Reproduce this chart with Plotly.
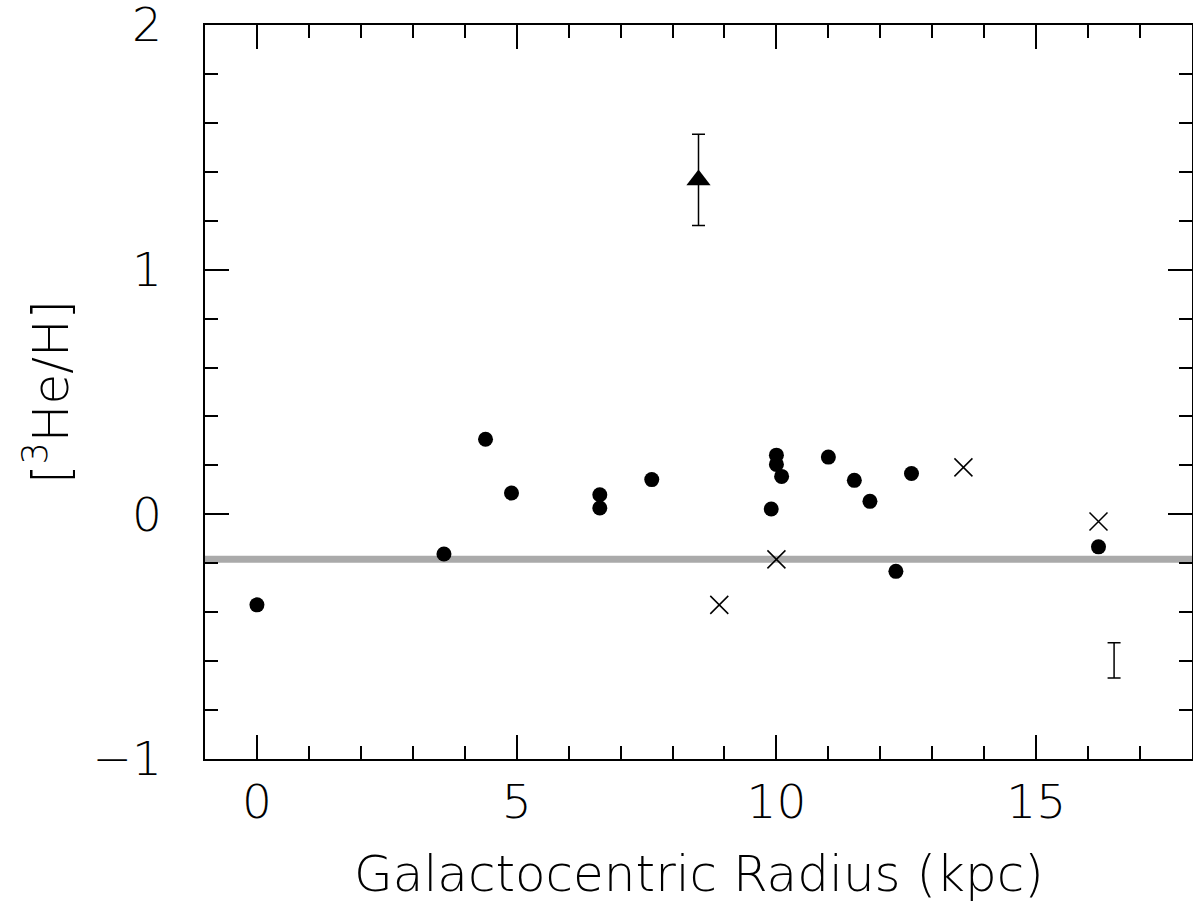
import plotly.graph_objects as go

# Filled circles
circ_x = [0.0, 3.6, 4.4, 4.9, 6.6, 6.6, 7.6, 9.9, 10.0, 10.0, 10.1, 11.0, 11.5, 11.8, 12.3, 12.6, 16.2]
circ_y = [-0.37, -0.162, 0.307, 0.087, 0.080, 0.026, 0.142, 0.022, 0.242, 0.204, 0.155, 0.234, 0.139, 0.053, -0.233, 0.167, -0.133]

# Crosses
cross_x = [8.9, 10.0, 13.6, 16.2]
cross_y = [-0.370, -0.184, 0.192, -0.029]

# Triangle with error bar
tri_x = [8.5]
tri_y = [1.367]
tri_err = [0.186]

# Representative error bar
rep_x = [16.5]
rep_y = [-0.597]
rep_err = [0.072]

# Reference (gray) line
ref_x = [-1, 18]
ref_y = [-0.184, -0.184]

x_title = "Galactocentric Radius (kpc)"
y_title = "[<sup>3</sup>He/H]"

FONT = "DejaVu Sans"
WEIGHT = 200

fig = go.Figure()
fig.add_trace(go.Scatter(x=ref_x, y=ref_y, mode="lines",
                         line=dict(color="#aaaaaa", width=7), showlegend=False))
fig.add_trace(go.Scatter(x=circ_x, y=circ_y, mode="markers",
                         marker=dict(symbol="circle", size=15, color="black"), showlegend=False))
fig.add_trace(go.Scatter(x=cross_x, y=cross_y, mode="markers",
                         marker=dict(symbol="x-thin-open", size=18, color="black",
                                     line=dict(width=1.5, color="black")), showlegend=False))
fig.add_trace(go.Scatter(x=tri_x, y=tri_y, mode="markers",
                         marker=dict(symbol="triangle-up", size=21, color="black"),
                         error_y=dict(type="data", array=tri_err, color="black",
                                      thickness=1.5, width=6.5),
                         showlegend=False))
fig.add_trace(go.Scatter(x=rep_x, y=rep_y, mode="markers",
                         marker=dict(size=1, color="rgba(0,0,0,0)"),
                         error_y=dict(type="data", array=rep_err, color="black",
                                      thickness=1.5, width=6.5),
                         showlegend=False))

tfont = dict(family=FONT, size=47, color="black", weight=WEIGHT)
titlefont = dict(family=FONT, size=50, color="black", weight=WEIGHT)
axis_common = dict(showline=True, linecolor="black", linewidth=1.5, mirror="ticks",
                   ticks="inside", ticklen=24, tickwidth=1.5, tickcolor="black",
                   showgrid=False, zeroline=False, automargin=False,
                   ticklabeloverflow="allow", tickfont=tfont)

fig.update_xaxes(range=[-1, 18], dtick=5, tick0=0,
                 minor=dict(dtick=1, tick0=0, ticks="inside", ticklen=13, tickwidth=1.5,
                            tickcolor="black", showgrid=False),
                 ticklabelstandoff=1,
                 **axis_common)
fig.update_yaxes(range=[-1, 2.00001], dtick=1, tick0=0,
                 minor=dict(dtick=0.2, tick0=0, ticks="inside", ticklen=13, tickwidth=1.5,
                            tickcolor="black", showgrid=False),
                 ticklabelstandoff=32,
                 **axis_common)

fig.add_annotation(text=x_title, xref="paper", yref="paper", x=0.5, y=0,
                   xanchor="center", yanchor="middle", yshift=-115, showarrow=False,
                   font=titlefont)
fig.add_annotation(text=y_title, xref="paper", yref="paper", x=0, y=0.5,
                   xanchor="center", yanchor="middle", xshift=-158, textangle=-90,
                   showarrow=False, font=titlefont)

fig.update_layout(width=1193, height=903, margin=dict(l=205, r=1, t=25, b=144),
                  paper_bgcolor="white", plot_bgcolor="white")
fig.write_html("out.html", config={"displayModeBar": False},
               post_script="document.body.style.margin='0';document.body.style.overflow='hidden';")
